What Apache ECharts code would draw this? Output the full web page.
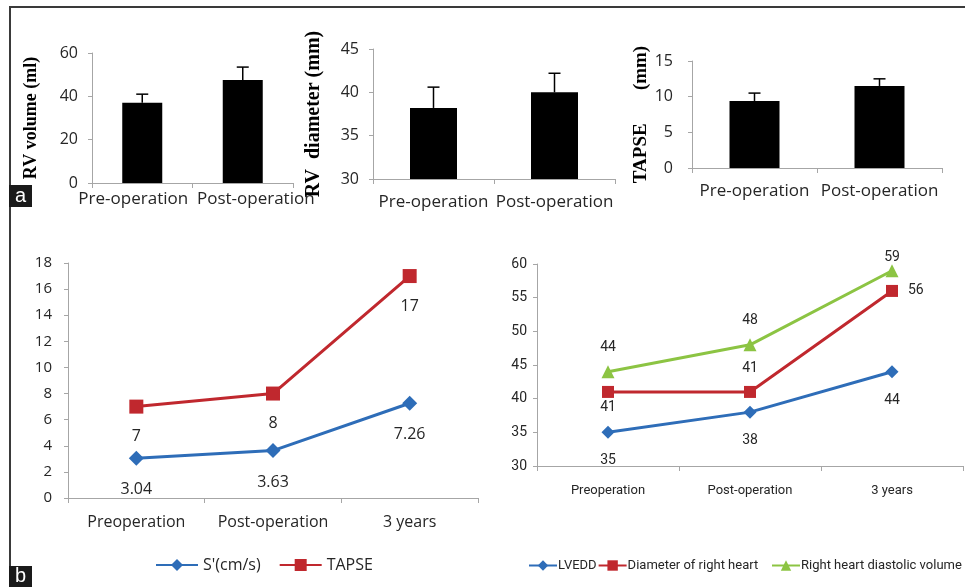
<!DOCTYPE html>
<html>
<head>
<meta charset="utf-8">
<script src="https://cdn.jsdelivr.net/npm/echarts@6/dist/echarts.min.js"></script>
<style>
  html, body { margin: 0; padding: 0; background: #fff; }
  #chart { width: 965px; height: 587px; }
</style>
</head>
<body>
<div id="chart"></div>
<script>
// panel a: bar charts (mean + SD)
const barCategories = ["Pre-operation", "Post-operation"];
const rvVolume = [37, 47.5];
const rvVolumeSd = [4, 6];
const rvDiameter = [38.2, 40];
const rvDiameterSd = [2.4, 2.2];
const tapseBar = [9.4, 11.5];
const tapseBarSd = [1.1, 1.0];

// panel b: follow-up lines
const lineCategories = ["Preoperation", "Post-operation", "3 years"];
const sPrime = [3.04, 3.63, 7.26];
const tapseLine = [7, 8, 17];
const lvedd = [35, 38, 44];
const rightDiameter = [41, 41, 56];
const rightVolume = [44, 48, 59];

const BLUE = "#2e6db8";
const RED = "#c0282e";
const GREEN = "#8cc443";
const AXIS = "#a6a6a6";
const TEXT = "#262626";
const SANS = "'Open Sans', 'Noto Sans', sans-serif";
const NARROW = "Roboto, 'Open Sans', sans-serif";

document.addEventListener("DOMContentLoaded", function () {
  const chart = echarts.init(document.getElementById("chart"));

  function catAxis(gridIndex, data, fontSize, margin, font, formatter, rich) {
    return {
      type: "category",
      gridIndex: gridIndex,
      data: data,
      axisLine: { show: true, lineStyle: { color: AXIS, width: 1 } },
      axisTick: { show: true, length: 5, lineStyle: { color: AXIS } },
      axisLabel: {
        interval: 0,
        margin: margin,
        color: TEXT,
        fontSize: fontSize,
        fontFamily: font,
        formatter: formatter,
        rich: rich,
      },
    };
  }

  function valAxis(gridIndex, min, max, interval, fontSize, margin, font, name, nameSize, nameGap) {
    return {
      type: "value",
      gridIndex: gridIndex,
      min: min,
      max: max,
      interval: interval,
      splitLine: { show: false },
      axisLine: { show: true, lineStyle: { color: AXIS, width: 1 } },
      axisTick: { show: true, length: 4, lineStyle: { color: AXIS } },
      axisLabel: {
        margin: margin,
        color: TEXT,
        fontSize: fontSize,
        fontFamily: font,
      },
      name: name || "",
      nameLocation: "middle",
      nameRotate: 90,
      nameGap: nameGap || 0,
      nameTextStyle: {
        fontFamily: "'Liberation Serif', serif",
        fontWeight: "bold",
        fontSize: nameSize || 12,
        color: "#000",
      },
    };
  }

  function errorBar(params, api) {
    const top = api.coord([api.value(0), api.value(2)]);
    const base = api.coord([api.value(0), api.value(1)]);
    const half = 6;
    const style = { stroke: "#000", lineWidth: 1.5 };
    return {
      type: "group",
      children: [
        { type: "line", shape: { x1: base[0], y1: base[1], x2: top[0], y2: top[1] }, style: style },
        { type: "line", shape: { x1: top[0] - half, y1: top[1], x2: top[0] + half, y2: top[1] }, style: style },
      ],
    };
  }

  function barPair(gridIndex, values, sd, barWidth) {
    return [
      {
        type: "bar",
        xAxisIndex: gridIndex,
        yAxisIndex: gridIndex,
        data: values,
        barWidth: barWidth,
        itemStyle: { color: "#000" },
        silent: true,
      },
      {
        type: "custom",
        xAxisIndex: gridIndex,
        yAxisIndex: gridIndex,
        renderItem: errorBar,
        data: values.map((v, i) => [i, v, v + sd[i]]),
        z: 3,
        silent: true,
      },
    ];
  }

  function lineSeries(gridIndex, name, values, color, symbol, size, labelPos, labelDist, fontSize, font) {
    return {
      type: "line",
      name: name,
      xAxisIndex: gridIndex,
      yAxisIndex: gridIndex,
      symbol: symbol,
      symbolSize: size,
      lineStyle: { color: color, width: 3 },
      itemStyle: { color: color },
      data: values.map((v, i) => ({
        value: v,
        label: { position: labelPos[i], distance: labelDist[i] },
      })),
      label: {
        show: true,
        color: TEXT,
        fontSize: fontSize,
        fontFamily: font,
      },
      silent: true,
    };
  }

  // the first bar panel's labels are wider than their slots and spread outward
  const spreadLabels = (value, index) => (index === 0 ? `{l|${value}}` : `{r|${value}}`);
  const spreadRich = {
    l: { padding: [0, 18, 0, 0], fontSize: 17, fontFamily: SANS, color: TEXT },
    r: { padding: [0, 0, 0, 26], fontSize: 17, fontFamily: SANS, color: TEXT },
  };

  const option = {
    animation: false,
    grid: [
      { left: 92, top: 53, width: 201, height: 130 },
      { left: 373, top: 49, width: 242, height: 130 },
      { left: 692, top: 61, width: 250, height: 107 },
      { left: 68, top: 263, width: 410, height: 235 },
      { left: 537, top: 264, width: 426, height: 202 },
    ],
    xAxis: [
      catAxis(0, barCategories, 17, 8, SANS, spreadLabels, spreadRich),
      catAxis(1, barCategories, 17, 15, SANS),
      catAxis(2, barCategories, 17, 15, SANS),
      catAxis(3, lineCategories, 16, 16, SANS),
      catAxis(4, lineCategories, 13, 18, NARROW),
    ],
    yAxis: [
      valAxis(0, 0, 60, 20, 16, 14, SANS, "RV volume (ml)", 18, 52),
      valAxis(1, 30, 45, 5, 16, 14, SANS, "RV  diameter (mm)", 20, 49),
      valAxis(2, 0, 15, 5, 16, 19, SANS, "TAPSE       (mm)", 19, 41),
      valAxis(3, 0, 18, 2, 15, 16, SANS),
      valAxis(4, 30, 60, 5, 14, 10, NARROW),
    ],
    legend: [
      {
        left: 150,
        top: 552,
        itemWidth: 42,
        itemHeight: 15,
        itemGap: 18,
        textStyle: { fontSize: 16, fontFamily: SANS, color: TEXT },
        data: ["S'(cm/s)", "TAPSE"],
      },
      {
        left: 523,
        top: 554,
        itemWidth: 28,
        itemHeight: 13,
        itemGap: 1,
        textStyle: { fontSize: 13, fontFamily: NARROW, color: TEXT, padding: [0, 0, 0, -4] },
        data: ["LVEDD", "Diameter of right heart"],
      },
      {
        left: 766,
        top: 554,
        itemWidth: 28,
        itemHeight: 13,
        textStyle: { fontSize: 13, fontFamily: NARROW, color: TEXT, padding: [0, 0, 0, -4] },
        data: ["Right heart diastolic volume"],
      },
    ],
    series: [
      ...barPair(0, rvVolume, rvVolumeSd, 40),
      ...barPair(1, rvDiameter, rvDiameterSd, 47),
      ...barPair(2, tapseBar, tapseBarSd, 50),
      lineSeries(3, "S'(cm/s)", sPrime, BLUE, "diamond", 15,
        ["bottom", "bottom", "bottom"], [16, 16, 16], 16, SANS),
      lineSeries(3, "TAPSE", tapseLine, RED, "rect", 14,
        ["bottom", "bottom", "bottom"], [15, 15, 15], 16, SANS),
      lineSeries(4, "LVEDD", lvedd, BLUE, "diamond", 13,
        ["bottom", "bottom", "bottom"], [15, 15, 15], 14, NARROW),
      lineSeries(4, "Diameter of right heart", rightDiameter, RED, "rect", 12,
        ["bottom", "top", "right"], [3, 10, 10], 14, NARROW),
      lineSeries(4, "Right heart diastolic volume", rightVolume, GREEN, "triangle", 13,
        ["top", "top", "top"], [11, 11, 0], 14, NARROW),
    ],
    graphic: [
      { type: "line", shape: { x1: 9, y1: 7, x2: 965, y2: 7 }, style: { stroke: "#3a3a3a", lineWidth: 2 } },
      { type: "line", shape: { x1: 10, y1: 7, x2: 10, y2: 567 }, style: { stroke: "#3a3a3a", lineWidth: 2 } },
      { type: "rect", shape: { x: 9, y: 185, width: 23, height: 22 }, style: { fill: "#1a1a1a" } },
      {
        type: "text", x: 20.5, y: 196,
        style: { text: "a", fill: "#fff", font: "20px 'Liberation Sans', sans-serif", textAlign: "center", textVerticalAlign: "middle" },
      },
      { type: "rect", shape: { x: 9, y: 566, width: 23, height: 21 }, style: { fill: "#1a1a1a" } },
      {
        type: "text", x: 20.5, y: 576,
        style: { text: "b", fill: "#fff", font: "20px 'Liberation Sans', sans-serif", textAlign: "center", textVerticalAlign: "middle" },
      },
    ],
  };

  chart.setOption(option);
});
</script>
</body>
</html>
